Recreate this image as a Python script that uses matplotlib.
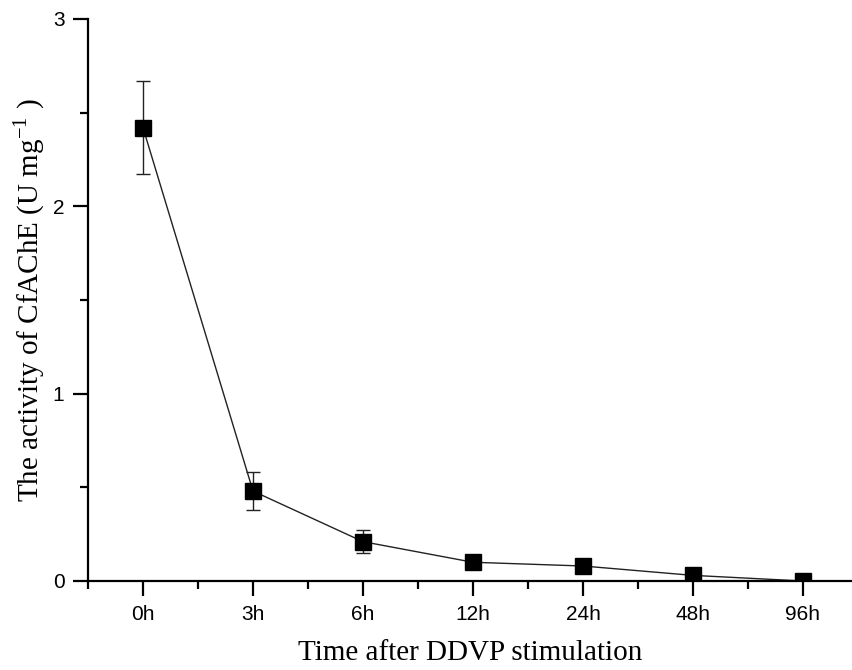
import matplotlib
matplotlib.use("Agg")
import matplotlib.pyplot as plt
from matplotlib.ticker import MultipleLocator

# data
labels = ["0h", "3h", "6h", "12h", "24h", "48h", "96h"]
activity = [2.42, 0.48, 0.21, 0.10, 0.08, 0.03, 0.0]
err = [0.25, 0.10, 0.06, 0.0, 0.0, 0.0, 0.0]

x = list(range(1, len(labels) + 1))

fig = plt.figure(figsize=(8.53, 6.70), dpi=100)
ax = fig.add_axes([88 / 853, 89 / 670, 1 - 88 / 853, 562 / 670])

ax.errorbar(x, activity, yerr=err, fmt="none", ecolor="#222222",
            elinewidth=1, capsize=5, capthick=1)
ax.plot(x, activity, color="#222222", lw=1, marker="s", ms=11,
        mfc="black", mec="black")

ax.set_xlim(0.5, 0.5 + 765 / 110)
ax.set_ylim(0, 3)
ax.set_xticks(x)
ax.set_xticklabels(labels)
ax.xaxis.set_minor_locator(MultipleLocator(0.5))
ax.yaxis.set_major_locator(MultipleLocator(1))
ax.yaxis.set_minor_locator(MultipleLocator(0.5))

for s in ["top", "right"]:
    ax.spines[s].set_visible(False)
for s in ["left", "bottom"]:
    ax.spines[s].set_linewidth(1.6)

ax.tick_params(which="major", direction="out", length=11, width=1.6,
               labelsize=15, pad=6)
ax.tick_params(which="minor", direction="out", length=6, width=1.6)
for lab in ax.get_xticklabels() + ax.get_yticklabels():
    lab.set_fontfamily("Liberation Sans")

ax.set_xlabel("Time after DDVP stimulation", fontsize=21,
              family="Liberation Serif", labelpad=12)
ax.set_ylabel("The activity of CfAChE (U mg$^{\\mathregular{-1}}$ )", fontsize=21,
              family="Liberation Serif", labelpad=4)

fig.savefig("out.png", dpi=100)
